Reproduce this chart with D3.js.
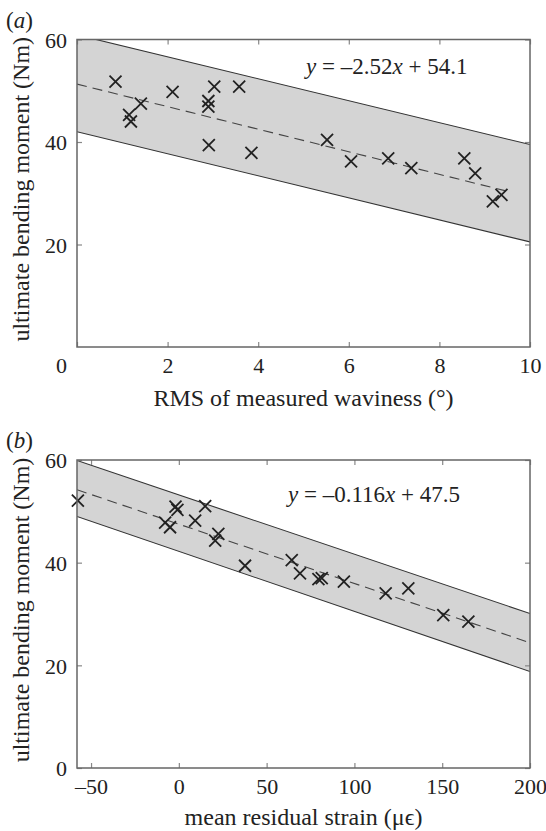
<!DOCTYPE html>
<html>
<head>
<meta charset="utf-8">
<script src="https://cdn.jsdelivr.net/npm/d3@7"></script>
<style>
  body { margin: 0; background: #fff; }
  svg text { font-family: "Liberation Serif", "Times New Roman", Times, "Nimbus Roman", Tinos, serif; fill: #222; }
</style>
</head>
<body>
<div class="graph-container"></div>
<script>
const width = 546,
    height = 831;

// (a) RMS waviness vs ultimate bending moment
const wavinessA = [0.85, 1.15, 1.19, 1.41, 2.11, 2.90, 2.90, 3.03, 2.91, 3.58, 3.85, 5.52, 6.05, 6.87, 7.38, 8.55, 8.79, 9.18, 9.37];
const momentA = [51.8, 45.3, 44.0, 47.5, 49.8, 48.0, 46.9, 50.8, 39.4, 50.8, 37.9, 40.4, 36.2, 36.8, 34.9, 36.8, 33.9, 28.4, 29.7];
const bandXA = [0, 10];
const upperA = [60.9, 39.5];
const lowerA = [42.0, 20.5];
const fitXA = [0, 9.54];
const fitA = [51.3, 30.3];
const xTicksA = [0, 2, 4, 6, 8, 10];
const yTicksA = [20, 40, 60];

// (b) mean residual strain vs ultimate bending moment
const strainB = [-57.5, -7.8, -5.0, -1.9, -0.8, 9.3, 15.0, 20.7, 22.5, 37.7, 64.3, 69.0, 79.5, 81.4, 94.0, 117.8, 130.7, 150.6, 164.9];
const momentB = [52.1, 47.8, 46.9, 50.9, 50.3, 48.2, 51.0, 44.3, 45.6, 39.4, 40.5, 37.9, 36.8, 37.0, 36.3, 34.0, 35.0, 29.8, 28.5];
const bandXB = [-58, 200];
const upperB = [59.9, 30.1];
const lowerB = [49.0, 18.8];
const fitXB = [-58, 200];
const fitB = [54.2, 24.4];
const xTicksB = [-50, 0, 50, 100, 150, 200];
const yTicksB = [0, 20, 40, 60];

const svg = d3.select(".graph-container")
    .append("svg")
    .attr("width", width)
    .attr("height", height);

const left = 77, right = 530;
const serif = "'Liberation Serif', 'Times New Roman', Times, 'Nimbus Roman', Tinos, serif";

function drawPanel(p) {
    const x = d3.scaleLinear().domain(p.xDomain).range([left, right]);
    const y = d3.scaleLinear().domain([0, 60]).range([p.bottom, p.top]);

    const g = svg.append("g");

    g.append("clipPath").attr("id", "clip-" + p.id)
        .append("rect")
        .attr("x", left).attr("y", p.top)
        .attr("width", right - left).attr("height", p.bottom - p.top);

    const plot = g.append("g").attr("clip-path", `url(#clip-${p.id})`);

    // shaded band between the two bound lines
    const area = d3.area()
        .x((d, i) => x(p.bandX[i]))
        .y0((d, i) => y(p.lower[i]))
        .y1((d, i) => y(p.upper[i]));
    plot.append("path")
        .attr("d", area(p.bandX))
        .attr("fill", "#d4d4d4");

    const line = (xs, ys) => d3.line()
        .x((d, i) => x(xs[i]))
        .y((d, i) => y(ys[i]))(xs);

    [p.upper, p.lower].forEach(ys => {
        plot.append("path")
            .attr("d", line(p.bandX, ys))
            .attr("fill", "none")
            .attr("stroke", "#333")
            .attr("stroke-width", 1.1);
    });

    plot.append("path")
        .attr("d", line(p.fitX, p.fit))
        .attr("fill", "none")
        .attr("stroke", "#444")
        .attr("stroke-width", 1.1)
        .attr("stroke-dasharray", "10,6");

    // cross markers
    const s = 6;
    g.append("g").selectAll("path")
        .data(p.xs.map((v, i) => [v, p.ys[i]]))
        .join("path")
        .attr("d", d => {
            const cx = x(d[0]), cy = y(d[1]);
            return `M${cx - s},${cy - s}L${cx + s},${cy + s}M${cx - s},${cy + s}L${cx + s},${cy - s}`;
        })
        .attr("stroke", "#222")
        .attr("stroke-width", 1.8)
        .attr("fill", "none");

    // axes, ticks pointing inward
    const fmt = d => d < 0 ? "\u2013" + Math.abs(d) : d;
    const styleAxis = sel => {
        sel.select(".domain").remove();
        sel.selectAll("line").attr("stroke", "#888").attr("stroke-width", 1.2);
        sel.selectAll("text")
            .style("font-size", "22px")
            .style("font-family", serif)
            .attr("fill", "#222");
    };

    const xAxis = g.append("g")
        .attr("transform", `translate(0,${p.bottom})`)
        .call(d3.axisBottom(x).tickValues(p.xTicks).tickSizeInner(-5).tickSizeOuter(0).tickFormat(fmt))
        .call(styleAxis);
    xAxis.selectAll("text").attr("y", 26).attr("dy", null);
    if (p.shiftZero) {
        xAxis.selectAll(".tick").filter(d => d === 0).select("text").attr("dx", -16);
    }

    g.append("g")
        .attr("transform", `translate(0,${p.top})`)
        .call(d3.axisTop(x).tickValues(p.xTicks).tickSizeInner(-5).tickSizeOuter(0).tickFormat(""))
        .call(styleAxis);

    g.append("g")
        .attr("transform", `translate(${left},0)`)
        .call(d3.axisLeft(y).tickValues(p.yTicks).tickSizeInner(-5).tickSizeOuter(0).tickPadding(10))
        .call(styleAxis)
        .selectAll("text").attr("dy", "0.35em");

    g.append("g")
        .attr("transform", `translate(${right},0)`)
        .call(d3.axisRight(y).tickValues(p.yTicks).tickSizeInner(-5).tickSizeOuter(0).tickFormat(""))
        .call(styleAxis);

    g.append("rect")
        .attr("x", left).attr("y", p.top)
        .attr("width", right - left).attr("height", p.bottom - p.top)
        .attr("fill", "none")
        .attr("stroke", "#666")
        .attr("stroke-width", 1.5);

    // equation
    const eq = g.append("text")
        .attr("x", p.eqX)
        .attr("y", p.eqY)
        .style("font-size", "23px");
    eq.append("tspan").text("y").style("font-style", "italic");
    eq.append("tspan").text(" = " + p.eq[0]);
    eq.append("tspan").text("x").style("font-style", "italic");
    eq.append("tspan").text(" + " + p.eq[1]);

    // axis titles
    g.append("text")
        .text(p.xTitle)
        .attr("x", (left + right) / 2)
        .attr("y", p.xTitleY)
        .attr("text-anchor", "middle")
        .style("font-size", "24px");

    g.append("text")
        .text("ultimate bending moment (Nm)")
        .attr("transform", `translate(29,${(p.top + p.bottom) / 2 - 4}) rotate(-90)`)
        .attr("text-anchor", "middle")
        .style("font-size", "24px");

    const lab = g.append("text")
        .attr("x", 6)
        .attr("y", p.top - 12)
        .style("font-size", "23px");
    lab.append("tspan").text("(");
    lab.append("tspan").text(p.id).style("font-style", "italic");
    lab.append("tspan").text(")");
}

drawPanel({
    id: "a",
    top: 39.5, bottom: 347,
    xDomain: [0, 10],
    xs: wavinessA, ys: momentA,
    bandX: bandXA, upper: upperA, lower: lowerA,
    fitX: fitXA, fit: fitA,
    xTicks: xTicksA, yTicks: yTicksA,
    shiftZero: true,
    eq: ["\u20132.52", "54.1"], eqX: 306, eqY: 74,
    xTitle: "RMS of measured waviness (\u00B0)", xTitleY: 406
});

drawPanel({
    id: "b",
    top: 460, bottom: 768,
    xDomain: [-58, 200],
    xs: strainB, ys: momentB,
    bandX: bandXB, upper: upperB, lower: lowerB,
    fitX: fitXB, fit: fitB,
    xTicks: xTicksB, yTicks: yTicksB,
    shiftZero: false,
    eq: ["\u20130.116", "47.5"], eqX: 288, eqY: 502,
    xTitle: "mean residual strain (\u03BC\u03F5)", xTitleY: 825
});
</script>
</body>
</html>
